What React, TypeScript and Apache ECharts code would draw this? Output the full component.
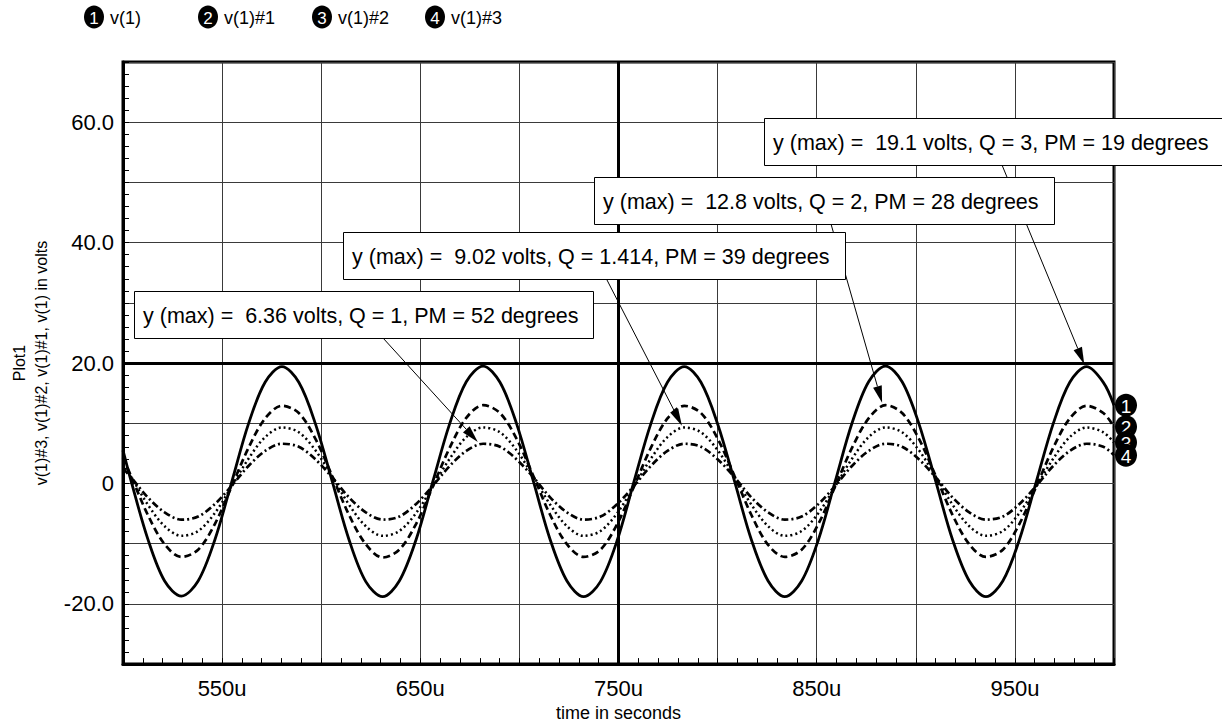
import React, { useEffect, useRef } from 'react';
import * as echarts from 'echarts';

// time in microseconds
const times = [
  500, 504.1, 512.5, 521.0, 529.5, 537.9, 546.4, 554.8, 563.3, 571.7, 580.2, 588.7, 597.1,
  605.6, 614.0, 622.5, 631.0, 639.4, 647.9, 656.3, 664.8, 673.2, 681.7, 690.2, 698.6,
  707.1, 715.5, 724.0, 732.4, 740.9, 749.4, 757.8, 766.3, 774.7, 783.2, 791.6, 800.1,
  808.6, 817.0, 825.5, 833.9, 842.4, 850.9, 859.3, 867.8, 876.2, 884.7, 893.1, 901.6,
  910.1, 918.5, 927.0, 935.4, 943.9, 952.3, 960.8, 969.3, 977.7, 986.2, 994.6, 1000,
];

// v(1)  (Q = 3)
const v1 = [
  5.5,
  0.4, -9.2, -16.2, -18.7, -16.2, -9.3, 0.2, 9.9, 16.8, 19.4, 16.8, 9.9,
  0.3, -9.3, -16.3, -18.8, -16.2, -9.3, 0.3, 9.9, 16.9, 19.5, 16.8, 9.9,
  0.3, -9.3, -16.2, -18.8, -16.3, -9.4, 0.3, 9.9, 16.8, 19.4, 16.8, 9.8,
  0.3, -9.3, -16.2, -18.8, -16.2, -9.3, 0.3, 10.0, 16.9, 19.5, 16.9, 9.9,
  0.3, -9.3, -16.2, -18.8, -16.2, -9.3, 0.3, 9.9, 16.8, 19.4, 16.8,
  13.0,
];

// v(1)#1  (Q = 2)
const v1n1 = [
  4.3,
  1.2, -5.2, -10.1, -12.2, -11.0, -6.7, -0.5, 5.9, 10.8, 12.9, 11.7, 7.4,
  1.2, -5.2, -10.1, -12.3, -11.0, -6.7, -0.5, 5.9, 10.9, 13.0, 11.7, 7.4,
  1.2, -5.2, -10.1, -12.2, -11.0, -6.7, -0.5, 5.9, 10.8, 12.9, 11.7, 7.4,
  1.2, -5.2, -10.2, -12.2, -11.0, -6.7, -0.5, 5.9, 10.8, 13.0, 11.7, 7.4,
  1.2, -5.2, -10.1, -12.2, -11.0, -6.7, -0.5, 5.9, 10.8, 12.9, 11.7,
  9.4,
];

// v(1)#2  (Q = 1.414)
const v1n2 = [
  3.3,
  1.1, -3.5, -7.1, -8.7, -7.9, -4.9, -0.5, 4.1, 7.7, 9.3, 8.5, 5.5,
  1.1, -3.5, -7.1, -8.7, -7.9, -4.9, -0.5, 4.1, 7.7, 9.3, 8.5, 5.5,
  1.1, -3.5, -7.1, -8.7, -7.9, -4.9, -0.5, 4.1, 7.7, 9.3, 8.5, 5.5,
  1.1, -3.5, -7.1, -8.7, -7.9, -4.9, -0.5, 4.1, 7.7, 9.3, 8.5, 5.5,
  1.1, -3.5, -7.1, -8.7, -7.9, -4.9, -0.5, 4.1, 7.7, 9.3, 8.5,
  6.8,
];

// v(1)#3  (Q = 1)
const v1n3 = [
  2.5,
  1.0, -2.3, -4.8, -6.0, -5.5, -3.4, -0.4, 2.9, 5.4, 6.6, 6.1, 4.0,
  1.0, -2.3, -4.8, -6.0, -5.5, -3.4, -0.4, 2.9, 5.4, 6.6, 6.1, 4.0,
  1.0, -2.3, -4.8, -6.0, -5.5, -3.4, -0.4, 2.9, 5.4, 6.6, 6.1, 4.0,
  1.0, -2.3, -4.8, -6.0, -5.5, -3.4, -0.4, 2.9, 5.4, 6.6, 6.1, 4.0,
  1.0, -2.3, -4.8, -6.0, -5.5, -3.4, -0.4, 2.9, 5.4, 6.6, 6.1,
  4.7,
];

const seriesNames = ['v(1)', 'v(1)#1', 'v(1)#2', 'v(1)#3'];
const seriesValues = [v1, v1n1, v1n2, v1n3];
const xLabelValues = [550, 650, 750, 850, 950];
const yLabelValues = [-20, 0, 20, 40, 60];

const annotationTexts = [
  'y (max) =  6.36 volts, Q = 1, PM = 52 degrees',
  'y (max) =  9.02 volts, Q = 1.414, PM = 39 degrees',
  'y (max) =  12.8 volts, Q = 2, PM = 28 degrees',
  'y (max) =  19.1 volts, Q = 3, PM = 19 degrees',
];
const annotationTipTime = [679, 782, 883, 985];
const annotationTipValue = [6.9, 9.6, 13.4, 19.8];

const FONT = '"Liberation Sans", Arial, Helvetica, sans-serif';

const lineStyles: any[] = [
  { color: '#000', width: 2.8, type: 'solid' },
  { color: '#000', width: 2.7, type: [7, 4] },
  { color: '#000', width: 2.5, type: [2, 3] },
  { color: '#000', width: 2.7, type: [7, 3, 2, 3] },
];

export default function App() {
  const ref = useRef<HTMLDivElement>(null);

  useEffect(() => {
    if (!ref.current) return;
    const chart = echarts.init(ref.current, undefined, { renderer: 'svg' });

    const series: any[] = seriesValues.map((vals, i) => ({
      name: seriesNames[i],
      type: 'line',
      data: times.map((t, j) => [t, vals[j]]),
      smooth: 0.33,
      showSymbol: false,
      symbol: 'none',
      lineStyle: lineStyles[i],
      z: 5 - i,
    }));
    series[0].markLine = {
      silent: true,
      symbol: 'none',
      label: { show: false },
      lineStyle: { color: '#000', width: 3, type: 'solid' },
      data: [{ yAxis: 20 }, { xAxis: 750 }],
      z: 1,
    };

    chart.setOption({
      animation: false,
      backgroundColor: '#fff',
      textStyle: { fontFamily: FONT },
      grid: {
        left: 121,
        right: 108,
        top: 62,
        bottom: 55,
        show: true,
        borderColor: '#000',
        borderWidth: 3,
        backgroundColor: 'transparent',
      },
      xAxis: {
        type: 'value',
        min: 500,
        max: 1000,
        interval: 50,
        axisLine: { show: true, onZero: false, lineStyle: { color: '#000', width: 3 } },
        axisTick: { show: true, inside: true, length: 6, lineStyle: { color: '#000', width: 1 } },
        minorTick: { show: true, splitNumber: 5, length: 6, lineStyle: { color: '#000', width: 1 } },
        splitLine: { show: true, lineStyle: { color: '#3a3a3a', width: 1 } },
        axisLabel: {
          color: '#000',
          fontSize: 22,
          fontFamily: FONT,
          margin: 13,
          formatter: (v: number) => (xLabelValues.includes(v) ? `${v}u` : ''),
        },
        name: 'time in seconds',
        nameLocation: 'middle',
        nameGap: 37,
        nameTextStyle: { color: '#000', fontSize: 18, fontFamily: FONT },
      },
      yAxis: {
        type: 'value',
        min: -30,
        max: 70,
        interval: 10,
        axisLine: { show: true, onZero: false, lineStyle: { color: '#000', width: 3 } },
        axisTick: { show: true, inside: true, length: 6, lineStyle: { color: '#000', width: 1 } },
        minorTick: { show: true, splitNumber: 5, length: 6, lineStyle: { color: '#000', width: 1 } },
        splitLine: { show: true, lineStyle: { color: '#3a3a3a', width: 1 } },
        axisLabel: {
          color: '#000',
          fontSize: 22,
          fontFamily: FONT,
          margin: 9,
          formatter: (v: number) =>
            yLabelValues.includes(v) ? (v === 0 ? '0' : v.toFixed(1)) : '',
        },
        name: 'Plot1\nv(1)#3, v(1)#2, v(1)#1, v(1) in volts',
        nameLocation: 'middle',
        nameRotate: 90,
        nameGap: 71,
        nameTextStyle: { color: '#000', fontSize: 16, fontFamily: FONT, lineHeight: 22, align: 'center' },
      },
      series,
    });

    const toPx = (t: number, v: number) =>
      chart.convertToPixel({ gridIndex: 0 } as any, [t, v]) as number[];

    const graphics: any[] = [];

    // legend
    const legendX = [94, 208, 322, 435];
    seriesNames.forEach((name, i) => {
      graphics.push({
        type: 'ellipse',
        shape: { cx: legendX[i], cy: 17, rx: 10, ry: 11.5 },
        style: { fill: '#000' },
        z: 50,
      });
      graphics.push({
        type: 'text',
        x: legendX[i],
        y: 18,
        style: {
          text: String(i + 1),
          fill: '#fff',
          font: `17px ${FONT}`,
          align: 'center',
          verticalAlign: 'middle',
        },
        z: 51,
      });
      graphics.push({
        type: 'text',
        x: legendX[i] + 16,
        y: 18,
        style: {
          text: name,
          fill: '#000',
          font: `18px ${FONT}`,
          align: 'left',
          verticalAlign: 'middle',
        },
        z: 51,
      });
    });

    // end-of-trace labels
    seriesValues.forEach((vals, i) => {
      const p = toPx(times[times.length - 1], vals[vals.length - 1]);
      graphics.push({
        type: 'ellipse',
        shape: { cx: p[0] + 12, cy: p[1], rx: 11, ry: 11.5 },
        style: { fill: '#000' },
        z: 60 + i * 2,
      });
      graphics.push({
        type: 'text',
        x: p[0] + 12,
        y: p[1] + 1,
        style: {
          text: String(i + 1),
          fill: '#fff',
          font: `19px ${FONT}`,
          align: 'center',
          verticalAlign: 'middle',
        },
        z: 61 + i * 2,
      });
    });

    // annotation boxes and arrows
    const boxes = [
      { x: 134, y: 291, w: 459 },
      { x: 343, y: 232, w: 502 },
      { x: 594, y: 177, w: 460 },
      { x: 764, y: 118, w: 462 },
    ];
    const arrowStarts = [
      [383, 338],
      [607, 280],
      [831, 224],
      [1002, 165],
    ];
    annotationTexts.forEach((txt, i) => {
      const tip = toPx(annotationTipTime[i], annotationTipValue[i]);
      const s = arrowStarts[i];
      const dx = tip[0] - s[0];
      const dy = tip[1] - s[1];
      const len = Math.sqrt(dx * dx + dy * dy);
      const ux = dx / len;
      const uy = dy / len;
      const L = 17;
      const W = 4.5;
      const bx = tip[0] - ux * L;
      const by = tip[1] - uy * L;
      graphics.push({
        type: 'line',
        shape: { x1: s[0], y1: s[1], x2: bx, y2: by },
        style: { stroke: '#000', lineWidth: 1 },
        z: 70,
      });
      graphics.push({
        type: 'polygon',
        shape: {
          points: [
            [tip[0], tip[1]],
            [bx - uy * W, by + ux * W],
            [bx + uy * W, by - ux * W],
          ],
        },
        style: { fill: '#000' },
        z: 70,
      });
    });
    // boxes drawn on top of arrows
    [3, 2, 1, 0].forEach((i, order) => {
      const b = boxes[i];
      graphics.push({
        type: 'rect',
        shape: { x: b.x + 0.5, y: b.y + 0.5, width: b.w, height: 47 },
        style: { fill: '#fff', stroke: '#000', lineWidth: 1 },
        z: 80 + order * 2,
      });
      graphics.push({
        type: 'text',
        x: b.x + 9,
        y: b.y + 25,
        style: {
          text: annotationTexts[i],
          fill: '#000',
          font: `21.5px ${FONT}`,
          align: 'left',
          verticalAlign: 'middle',
        },
        z: 81 + order * 2,
      });
    });

    chart.setOption({ graphic: graphics });

    return () => {
      chart.dispose();
    };
  }, []);

  return (
    <div
      ref={ref}
      style={{ position: 'absolute', left: 0, top: 0, width: 1222, height: 727, background: '#fff' }}
    />
  );
}
